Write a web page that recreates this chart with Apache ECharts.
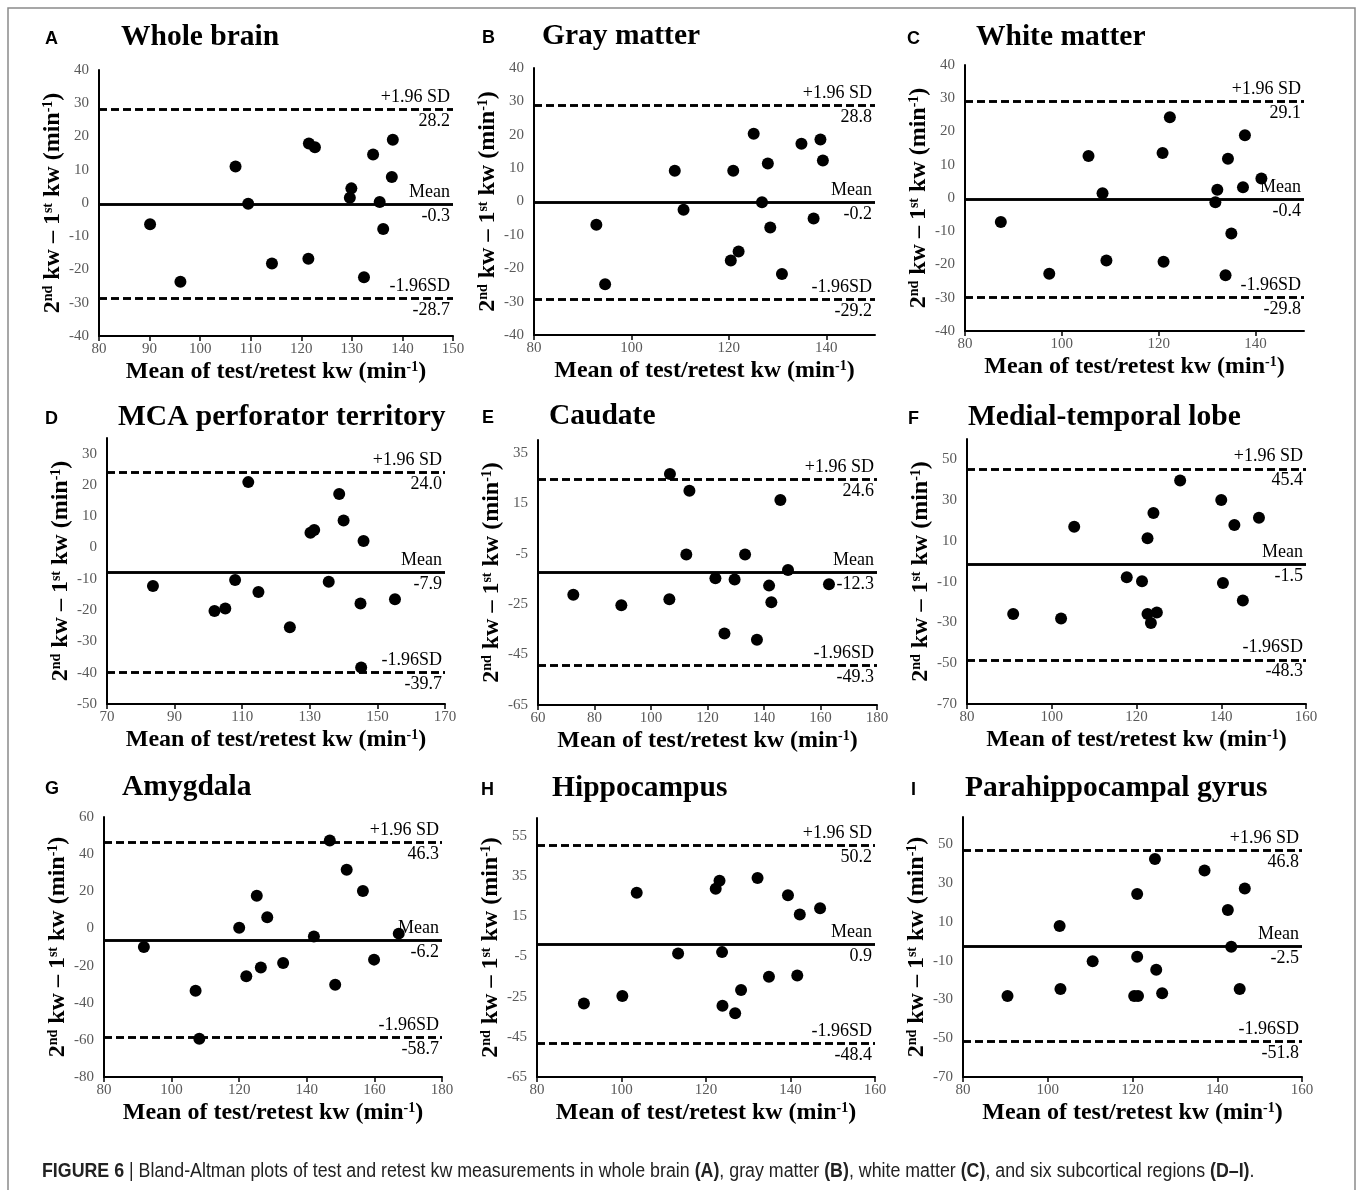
<!DOCTYPE html>
<html>
<head>
<meta charset="utf-8">
<title>Bland-Altman plots</title>
<script src="https://cdn.jsdelivr.net/npm/echarts@6/dist/echarts.min.js"></script>
<style>
html, body { margin: 0; padding: 0; background: #fff; }
#chart { width: 1358px; height: 1190px; }
</style>
</head>
<body>
<div id="chart"></div>
<script>
// panel labels
const panelLetters = ['A', 'B', 'C', 'D', 'E', 'F', 'G', 'H', 'I'];
const panelTitles = ['Whole brain', 'Gray matter', 'White matter', 'MCA perforator territory', 'Caudate',
  'Medial-temporal lobe', 'Amygdala', 'Hippocampus', 'Parahippocampal gyrus'];

// x = mean of test/retest kw, y = 2nd kw - 1st kw
const wholeBrainX = [90.1, 96.1, 107.0, 109.5, 114.2, 121.4, 121.5, 122.7, 129.6, 129.9, 132.4, 134.2, 135.5, 136.2, 137.9, 138.1];
const wholeBrainY = [-6.4, -23.7, 11.0, -0.2, -18.2, -16.8, 17.9, 16.8, 1.6, 4.4, -22.3, 14.6, 0.3, -7.8, 7.8, 19.0];
const grayMatterX = [92.8, 94.6, 108.9, 110.7, 120.4, 120.9, 122.0, 125.1, 126.8, 128.0, 128.5, 130.9, 134.9, 137.4, 138.8, 139.3];
const grayMatterY = [-7.0, -24.8, 9.2, -2.5, -17.7, 9.2, -15.0, 20.3, -0.2, 11.4, -7.8, -21.7, 17.3, -5.1, 18.6, 12.3];
const whiteMatterX = [87.4, 97.4, 105.5, 108.4, 109.2, 120.8, 121.0, 122.3, 131.7, 132.1, 133.8, 134.3, 135.0, 137.4, 137.8, 141.2];
const whiteMatterY = [-7.2, -22.8, 12.6, 1.4, -18.8, 13.5, -19.2, 24.3, -1.3, 2.5, -23.2, 11.8, -10.7, 3.2, 18.9, 5.9];
const mcaX = [83.6, 101.8, 105.0, 107.9, 111.8, 114.8, 124.1, 130.2, 131.3, 135.6, 138.7, 140.0, 145.0, 145.2, 145.9, 155.2];
const mcaY = [-12.3, -20.3, -19.5, -10.4, 20.9, -14.2, -25.5, 4.7, 5.6, -10.9, 17.1, 8.6, -17.9, -38.3, 2.1, -16.5];
const caudateX = [72.5, 89.5, 106.5, 106.7, 112.5, 113.6, 122.8, 126.0, 129.6, 133.3, 137.5, 141.8, 142.6, 145.8, 148.5, 163.0];
const caudateY = [-21.3, -25.5, -23.1, 26.5, -5.4, 19.9, -14.8, -36.7, -15.3, -5.4, -39.1, -17.7, -24.3, 16.2, -11.5, -17.2];
const mtlX = [90.9, 102.2, 105.3, 117.7, 121.3, 122.6, 122.6, 123.4, 124.0, 124.8, 130.3, 140.0, 140.4, 143.1, 145.1, 148.9];
const mtlY = [-25.9, -28.0, 17.0, -7.8, -9.8, 11.3, -25.8, -30.3, 23.7, -25.1, 39.6, 30.1, -10.6, 17.8, -19.2, 21.4];
const amygdalaX = [91.8, 107.1, 108.2, 120.0, 122.1, 125.2, 126.4, 128.3, 133.0, 142.1, 146.8, 148.4, 151.8, 156.6, 159.9, 167.2];
const amygdalaY = [-10.0, -33.5, -59.4, 0.4, -25.8, 17.6, -21.0, 6.0, -18.6, -4.3, 47.3, -30.3, 31.6, 20.2, -16.8, -2.8];
const hippocampusX = [91.1, 100.2, 103.6, 113.4, 122.3, 123.2, 123.8, 123.9, 126.9, 128.3, 132.2, 134.9, 139.4, 141.6, 142.2, 147.0];
const hippocampusY = [-28.4, -24.7, 26.8, -3.5, 28.8, 32.8, -2.8, -29.5, -33.3, -21.7, 34.1, -15.1, 25.5, -14.5, 15.9, 19.0];
const parahippoX = [90.5, 102.8, 103.0, 110.6, 120.4, 121.1, 121.1, 121.3, 125.3, 125.6, 127.0, 137.0, 142.5, 143.3, 145.3, 146.5];
const parahippoY = [-28.3, 7.8, -24.6, -10.3, -28.3, 24.3, -8.0, -28.3, 42.3, -14.7, -26.8, 36.4, 16.1, -2.9, -24.6, 27.1];

// limits of agreement and mean difference
const upperLimits = [28.2, 28.8, 29.1, 24.0, 24.6, 45.4, 46.3, 50.2, 46.8];
const meanDiffs = [-0.3, -0.2, -0.4, -7.9, -12.3, -1.5, -6.2, 0.9, -2.5];
const lowerLimits = [-28.7, -29.2, -29.8, -39.7, -49.3, -48.3, -58.7, -48.4, -51.8];

// axis ranges and tick labels
const xRanges = [[80, 150], [80, 150], [80, 150], [70, 170], [60, 180], [80, 160], [80, 180], [80, 160], [80, 160]];
const yRanges = [[-40, 40], [-40, 40], [-40, 40], [-50, 35], [-65, 40], [-70, 60], [-80, 60], [-65, 64], [-70, 64]];
const xTicks = [
  [80, 90, 100, 110, 120, 130, 140, 150],
  [80, 100, 120, 140],
  [80, 100, 120, 140],
  [70, 90, 110, 130, 150, 170],
  [60, 80, 100, 120, 140, 160, 180],
  [80, 100, 120, 140, 160],
  [80, 100, 120, 140, 160, 180],
  [80, 100, 120, 140, 160],
  [80, 100, 120, 140, 160]
];
const yTicks = [
  [-40, -30, -20, -10, 0, 10, 20, 30, 40],
  [-40, -30, -20, -10, 0, 10, 20, 30, 40],
  [-40, -30, -20, -10, 0, 10, 20, 30, 40],
  [-50, -40, -30, -20, -10, 0, 10, 20, 30],
  [-65, -45, -25, -5, 15, 35],
  [-70, -50, -30, -10, 10, 30, 50],
  [-80, -60, -40, -20, 0, 20, 40, 60],
  [-65, -45, -25, -5, 15, 35, 55],
  [-70, -50, -30, -10, 10, 30, 50]
];

const xs = [wholeBrainX, grayMatterX, whiteMatterX, mcaX, caudateX, mtlX, amygdalaX, hippocampusX, parahippoX];
const ys = [wholeBrainY, grayMatterY, whiteMatterY, mcaY, caudateY, mtlY, amygdalaY, hippocampusY, parahippoY];

// plot boxes: left, right, top, bottom (px)
const boxes = [
  [99, 453, 70, 336], [534, 875, 68, 335], [965, 1304, 65, 331],
  [107, 445, 438, 704], [538, 877, 440, 705], [967, 1306, 439, 704],
  [104, 442, 817, 1077], [537, 875, 818, 1077], [963, 1302, 817, 1077]
];
// title start x / center y, letter x
const titlePos = [[121, 37], [542, 36], [976, 37], [118, 417], [549, 416], [968, 417], [122, 787], [552, 788], [965, 788]];
const letterX = [45, 482, 907, 45, 482, 908, 45, 481, 911];

const serif = '"Liberation Serif", "Times New Roman", serif';
const sans = '"Liberation Sans", Arial, sans-serif';
const sup = { fontSize: 14, fontWeight: 'bold', fontFamily: serif, color: '#000', verticalAlign: 'top' };

const grids = [], xAxes = [], yAxes = [], series = [], graphics = [];

for (let i = 0; i < 9; i++) {
  const b = boxes[i];
  grids.push({ left: b[0], top: b[2], width: b[1] - b[0], height: b[3] - b[2] });

  xAxes.push({
    type: 'value', gridIndex: i, min: xRanges[i][0], max: xRanges[i][1],
    name: 'Mean of test/retest kw (min{s|-1})',
    nameLocation: 'middle', nameGap: 24,
    nameTextStyle: { fontFamily: serif, fontWeight: 'bold', fontSize: 24, color: '#000', rich: { s: sup } },
    axisLine: { onZero: false, lineStyle: { color: '#000', width: 2 } },
    axisTick: { show: true, length: 5, customValues: xTicks[i], lineStyle: { color: '#000', width: 1.5 } },
    axisLabel: { customValues: xTicks[i], color: '#595959', fontFamily: serif, fontSize: 15, margin: 6 },
    splitLine: { show: false }
  });

  yAxes.push({
    type: 'value', gridIndex: i, min: yRanges[i][0], max: yRanges[i][1],
    name: '2{s|nd} kw \u2013 1{s|st} kw (min{s|-1})',
    nameLocation: 'middle', nameGap: 32,
    nameTextStyle: { fontFamily: serif, fontWeight: 'bold', fontSize: 24, color: '#000', rich: { s: sup } },
    axisLine: { show: true, onZero: false, lineStyle: { color: '#000', width: 2 } },
    axisTick: { show: false },
    axisLabel: { customValues: yTicks[i], color: '#595959', fontFamily: serif, fontSize: 15, margin: 10 },
    splitLine: { show: false }
  });

  const dashed = { type: [8, 4], color: '#000', width: 2.5 };
  const solid = { type: 'solid', color: '#000', width: 2.5 };
  series.push({
    type: 'scatter', xAxisIndex: i, yAxisIndex: i,
    data: xs[i].map((x, k) => [x, ys[i][k]]),
    symbolSize: 12,
    itemStyle: { color: '#000', opacity: 1 },
    silent: true,
    markLine: {
      symbol: 'none', silent: true, animation: false,
      label: { color: '#000', fontFamily: serif, fontSize: 18, distance: 3 },
      data: [
        { yAxis: upperLimits[i], lineStyle: dashed, label: { position: 'insideEndTop', formatter: '+1.96 SD' } },
        { yAxis: upperLimits[i], lineStyle: dashed, label: { position: 'insideEndBottom', formatter: upperLimits[i].toFixed(1) } },
        { yAxis: meanDiffs[i], lineStyle: solid, label: { position: 'insideEndTop', formatter: 'Mean' } },
        { yAxis: meanDiffs[i], lineStyle: solid, label: { position: 'insideEndBottom', formatter: meanDiffs[i].toFixed(1) } },
        { yAxis: lowerLimits[i], lineStyle: dashed, label: { position: 'insideEndTop', formatter: '-1.96SD' } },
        { yAxis: lowerLimits[i], lineStyle: dashed, label: { position: 'insideEndBottom', formatter: lowerLimits[i].toFixed(1) } }
      ]
    }
  });

  graphics.push({
    type: 'text', silent: true,
    style: { text: panelLetters[i], x: letterX[i], y: titlePos[i][1] + 2, font: 'bold 18px ' + sans,
      fill: '#000', align: 'left', verticalAlign: 'middle' }
  });
  graphics.push({
    type: 'text', silent: true,
    style: { text: panelTitles[i], x: titlePos[i][0], y: titlePos[i][1], font: 'bold 29.5px ' + serif,
      fill: '#000', align: 'left', verticalAlign: 'middle' }
  });
}

// outer frame and caption
graphics.push({
  type: 'rect', silent: true,
  shape: { x: 8, y: 8, width: 1347, height: 1200 },
  style: { fill: 'none', stroke: '#8a8a8a', lineWidth: 1.5 }
});
graphics.push({
  type: 'text', silent: true,
  x: 42, y: 1171, scaleX: 0.89,
  style: {
    text: '{b|FIGURE 6} | Bland-Altman plots of test and retest kw measurements in whole brain {b|(A)}, gray matter {b|(B)}, white matter {b|(C)}, and six subcortical regions {b|(D\u2013I)}.',
    x: 0, y: 0, align: 'left', verticalAlign: 'middle',
    font: '20px ' + sans, fill: '#222',
    rich: { b: { fontWeight: 'bold', fontSize: 20, fontFamily: sans, fill: '#222' } }
  }
});

const chart = echarts.init(document.getElementById('chart'));
const option = {
  animation: false,
  backgroundColor: '#fff',
  grid: grids,
  xAxis: xAxes,
  yAxis: yAxes,
  series: series,
  graphic: graphics
};
option && chart.setOption(option);
</script>
</body>
</html>
